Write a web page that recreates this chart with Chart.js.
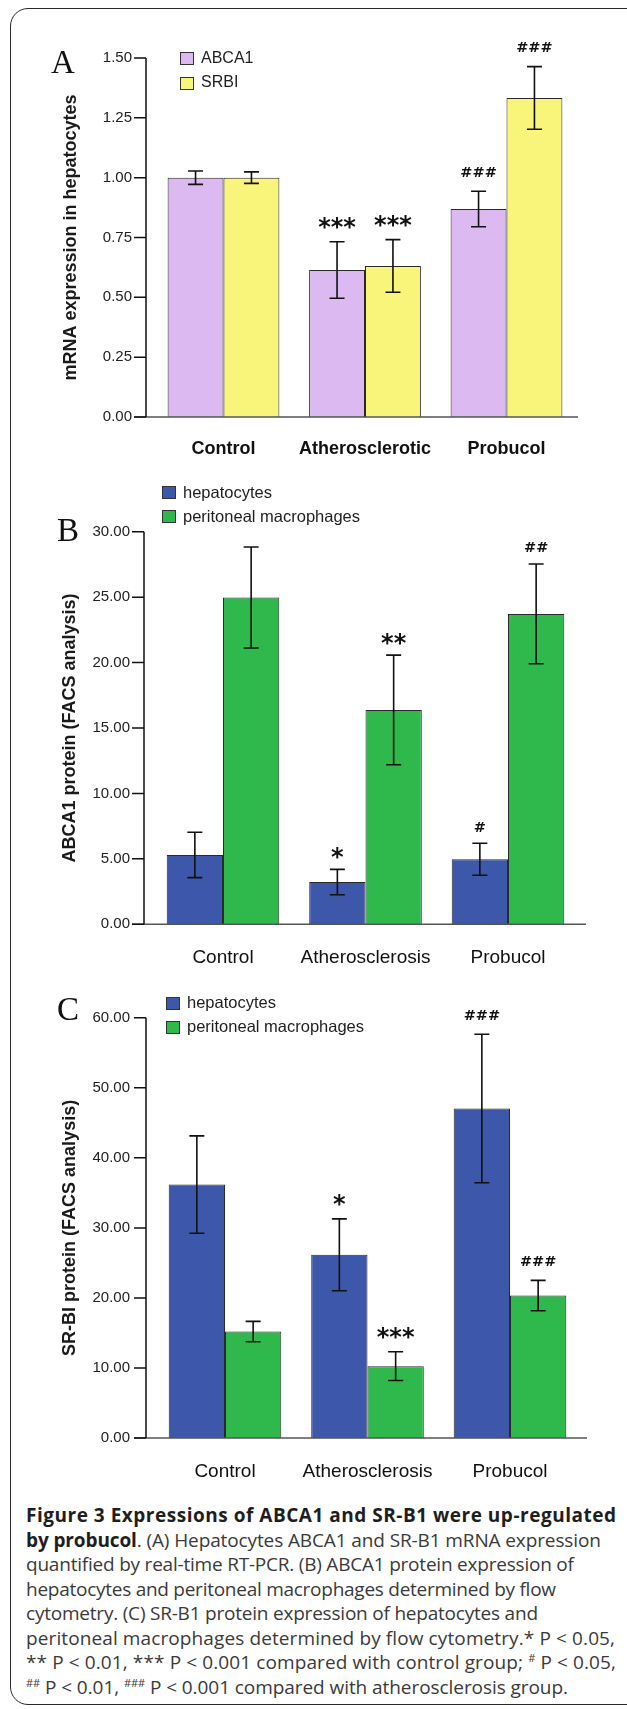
<!DOCTYPE html>
<html>
<head>
<meta charset="utf-8">
<script src="https://cdn.jsdelivr.net/npm/chart.js@4.4.1/dist/chart.umd.min.js"></script>
<style>
html,body{margin:0;padding:0;background:#fff;width:627px;height:1709px;overflow:hidden;position:relative}
.frame{position:absolute;left:10px;top:8px;width:700px;height:1697px;border:1.5px solid #2a2a2a;border-radius:18px;box-sizing:border-box}
canvas{position:absolute;left:0}
.cap{position:absolute;left:26px;top:1503px;font-family:'Open Sans',sans-serif;font-size:19px;line-height:24.5px;color:#3a3a3a;white-space:nowrap}
.cap b{color:#1e1e1e}
.cap sup{font-size:11px;vertical-align:7px;line-height:0}
</style>
</head>
<body>
<div class="frame"></div>
<canvas id="cA" width="627" height="470" style="top:0px"></canvas>
<canvas id="cB" width="627" height="515" style="top:470px"></canvas>
<canvas id="cC" width="627" height="515" style="top:985px"></canvas>
<div class="cap" id="cap">
<div><span><b>Figure 3 Expressions of ABCA1 and SR-B1 were up-regulated</b></span></div>
<div><span><b>by probucol</b>. (A) Hepatocytes ABCA1 and SR-B1 mRNA expression</span></div>
<div><span>quantified by real-time RT-PCR. (B) ABCA1 protein expression of</span></div>
<div><span>hepatocytes and peritoneal macrophages determined by flow</span></div>
<div><span>cytometry. (C) SR-B1 protein expression of hepatocytes and</span></div>
<div><span>peritoneal macrophages determined by flow cytometry.* P &lt; 0.05,</span></div>
<div><span>** P &lt; 0.01, *** P &lt; 0.001 compared with control group; <sup>#</sup> P &lt; 0.05,</span></div>
<div><span><sup>##</sup> P &lt; 0.01, <sup>###</sup> P &lt; 0.001 compared with atherosclerosis group.</span></div>
</div>
<script>
// ---------- data ----------
const categoriesA = ['Control', 'Atherosclerotic', 'Probucol'];
const categoriesBC = ['Control', 'Atherosclerosis', 'Probucol'];
const seriesA = ['ABCA1', 'SRBI'];
const seriesBC = ['hepatocytes', 'peritoneal macrophages'];

const abca1mRNA = [1.00, 0.614, 0.869];
const abca1mRNAErr = [0.028, 0.118, 0.074];
const srbiMRNA = [1.00, 0.631, 1.333];
const srbiMRNAErr = [0.024, 0.110, 0.131];
const sigA_abca1 = ['', '***', '###'];
const sigA_srbi = ['', '***', '###'];

const abca1ProtHep = [5.30, 3.23, 4.97];
const abca1ProtHepErr = [1.73, 0.97, 1.22];
const abca1ProtMac = [24.97, 16.38, 23.72];
const abca1ProtMacErr = [3.86, 4.19, 3.81];
const sigB_hep = ['', '*', '#'];
const sigB_mac = ['', '**', '##'];

const srbiProtHep = [36.18, 26.15, 47.04];
const srbiProtHepErr = [6.95, 5.13, 10.6];
const srbiProtMac = [15.20, 10.26, 20.33];
const srbiProtMacErr = [1.45, 2.05, 2.17];
const sigC_hep = ['', '*', '###'];
const sigC_mac = ['', '***', '###'];

const yTicksA = ['0.00', '0.25', '0.50', '0.75', '1.00', '1.25', '1.50'];
const yTicksB = ['0.00', '5.00', '10.00', '15.00', '20.00', '25.00', '30.00'];
const yTicksC = ['0.00', '10.00', '20.00', '30.00', '40.00', '50.00', '60.00'];

const titleA = 'mRNA expression in hepatocytes';
const titleB = 'ABCA1 protein (FACS analysis)';
const titleC = 'SR-BI protein (FACS analysis)';

// ---------- styles ----------
const LILAC = '#dcb9f0', YELLOW = '#f9f57a', BLUE = '#3d57aa', GREEN = '#2fb84b';
const SANS = '"Liberation Sans", Arial, Helvetica, sans-serif';

const panelPlugin = {
  id: 'panel',
  afterDatasetsDraw(chart, args, o) {
    const ctx = chart.ctx, ys = chart.scales.y, ca = chart.chartArea;
    ctx.save();
    const ax = ca.left - o.axisGap;
    const y0 = ys.getPixelForValue(0), yTop = ys.getPixelForValue(ys.max);
    ctx.strokeStyle = '#555'; ctx.lineWidth = 1.5;
    ctx.beginPath(); ctx.moveTo(ax - 12, y0); ctx.lineTo(o.xEnd, y0); ctx.stroke();
    ctx.strokeStyle = '#111'; ctx.lineWidth = 1.5;
    ctx.beginPath(); ctx.moveTo(ax, yTop); ctx.lineTo(ax, y0);
    ys.ticks.forEach(t => { const y = ys.getPixelForValue(t.value); ctx.moveTo(ax - 12, y); ctx.lineTo(ax, y); });
    ctx.stroke();
    chart.data.datasets.forEach((ds, di) => {
      const meta = chart.getDatasetMeta(di);
      meta.data.forEach((bar, i) => {
        const v = ds.data[i], e = ds.errors[i];
        const yt = ys.getPixelForValue(v + e), yb = ys.getPixelForValue(v - e);
        ctx.strokeStyle = '#111'; ctx.lineWidth = 1.6;
        ctx.beginPath();
        ctx.moveTo(bar.x, yt); ctx.lineTo(bar.x, yb);
        ctx.moveTo(bar.x - o.cap, yt); ctx.lineTo(bar.x + o.cap, yt);
        ctx.moveTo(bar.x - o.cap, yb); ctx.lineTo(bar.x + o.cap, yb);
        ctx.stroke();
        const s = ds.sig[i];
        if (s) {
          const cy = yt - o.sigOffset;
          ctx.fillStyle = '#111'; ctx.textAlign = 'center'; ctx.textBaseline = 'alphabetic';
          if (s[0] === '*') {
            ctx.font = 'bold 24px "DejaVu Sans", sans-serif';
            ctx.fillText(s, bar.x, cy + 13);
          } else {
            ctx.font = 'bold 14.5px "DejaVu Sans", sans-serif';
            ctx.fillText(s, bar.x, cy + 5.4);
          }
        }
      });
    });
    ctx.font = o.legendFont; ctx.textAlign = 'left'; ctx.textBaseline = 'middle';
    chart.data.datasets.forEach((ds, di) => {
      const L = o.legend[di];
      ctx.fillStyle = ds.backgroundColor; ctx.fillRect(L[0], L[1], 14, 13);
      ctx.strokeStyle = '#333'; ctx.lineWidth = 1; ctx.strokeRect(L[0] + 0.5, L[1] + 0.5, 13, 12);
      ctx.fillStyle = '#1e1e1e'; ctx.fillText(ds.label, L[2], L[3]);
    });
    ctx.font = '33px "Liberation Serif", "Times New Roman", serif';
    ctx.fillStyle = '#111'; ctx.textBaseline = 'alphabetic';
    ctx.fillText(o.letter, o.letterPos[0], o.letterPos[1]);
    ctx.restore();
  }
};

function makeChart(id, c) {
  const el = document.getElementById(id);
  const W = el.width, H = el.height;
  return new Chart(el, {
    type: 'bar',
    data: {
      labels: c.labels,
      datasets: c.series.map((name, k) => ({
        label: name, data: c.values[k], errors: c.errors[k], sig: c.sig[k],
        backgroundColor: c.colors[k], borderColor: '#2a2a2a', borderWidth: 1,
        categoryPercentage: 0.79, barPercentage: 1.0
      }))
    },
    plugins: [panelPlugin],
    options: {
      responsive: false, animation: false, events: [],
      layout: { padding: { left: 0, top: c.area.top, right: W - c.area.right, bottom: 0 } },
      plugins: {
        legend: { display: false }, tooltip: { enabled: false },
        panel: c.panel
      },
      scales: {
        x: {
          grid: { display: false, drawTicks: false }, border: { display: false },
          ticks: { autoSkip: false, maxRotation: 0, padding: c.xPad, color: '#111', font: c.xFont },
          afterFit: s => { s.height = H - c.area.bottom; }
        },
        y: {
          min: 0, max: c.max,
          grid: { display: false, drawTicks: false }, border: { display: false },
          ticks: { stepSize: c.step, padding: c.yPad, color: '#222', font: { family: SANS, size: 15 },
                   callback: (v, i) => c.yTicks[i] },
          title: { display: true, text: c.title, color: '#1a1a1a', padding: { top: c.titlePad, bottom: 0 },
                   font: { family: SANS, size: 18, weight: 'bold' } },
          afterFit: s => { s.width = c.area.left; }
        }
      }
    }
  });
}

makeChart('cA', {
  labels: categoriesA, series: seriesA,
  values: [abca1mRNA, srbiMRNA], errors: [abca1mRNAErr, srbiMRNAErr], sig: [sigA_abca1, sigA_srbi],
  colors: [LILAC, YELLOW], max: 1.5, step: 0.25, yTicks: yTicksA, title: titleA,
  area: { top: 58, bottom: 417, left: 152.75, right: 577.25 },
  xPad: 21, yPad: 20.75, titlePad: 60.2,
  xFont: { family: SANS, size: 18, weight: 'bold' },
  panel: { axisGap: 6.75, xEnd: 578, cap: 7.5, sigOffset: 20, letter: 'A', letterPos: [51, 73],
           legendFont: '16px ' + SANS, legend: [[180, 52, 201, 58.5], [180, 77, 201, 83]] }
});

makeChart('cB', {
  labels: categoriesBC, series: seriesBC,
  values: [abca1ProtHep, abca1ProtMac], errors: [abca1ProtHepErr, abca1ProtMacErr], sig: [sigB_hep, sigB_mac],
  colors: [BLUE, GREEN], max: 30, step: 5, yTicks: yTicksB, title: titleB,
  area: { top: 61.7, bottom: 454.3, left: 151.75, right: 579.25 },
  xPad: 22.3, yPad: 21.75, titlePad: 59.2,
  xFont: { family: SANS, size: 19 },
  panel: { axisGap: 7.75, xEnd: 586, cap: 7.5, sigOffset: 17, letter: 'B', letterPos: [57, 71],
           legendFont: '16.5px ' + SANS, legend: [[162, 16, 183, 23], [162, 40, 183, 47]] }
});

makeChart('cC', {
  labels: categoriesBC, series: seriesBC,
  values: [srbiProtHep, srbiProtMac], errors: [srbiProtHepErr, srbiProtMacErr], sig: [sigC_hep, sigC_mac],
  colors: [BLUE, GREEN], max: 60, step: 10, yTicks: yTicksC, title: titleC,
  area: { top: 24, bottom: 453, left: 153.75, right: 581.25 },
  xPad: 22.6, yPad: 23.75, titlePad: 59.2,
  xFont: { family: SANS, size: 19 },
  panel: { axisGap: 7.75, xEnd: 587, cap: 7.5, sigOffset: 20, letter: 'C', letterPos: [57, 35],
           legendFont: '16.5px ' + SANS, legend: [[166, 12, 187, 18], [166, 36, 187, 42]] }
});

// fit caption lines to the widths seen in the figure
const captionRightEdges = [616, 601, 574, 556, 538, 615, 616, 568];
document.querySelectorAll('#cap > div > span').forEach((sp, i) => {
  const w = sp.getBoundingClientRect().width;
  const target = captionRightEdges[i] - 26;
  const n = sp.textContent.length - 1;
  const ls = Math.max(-1, Math.min(1.5, (target - w) / n));
  sp.style.letterSpacing = ls.toFixed(3) + 'px';
});
</script>
</body>
</html>
